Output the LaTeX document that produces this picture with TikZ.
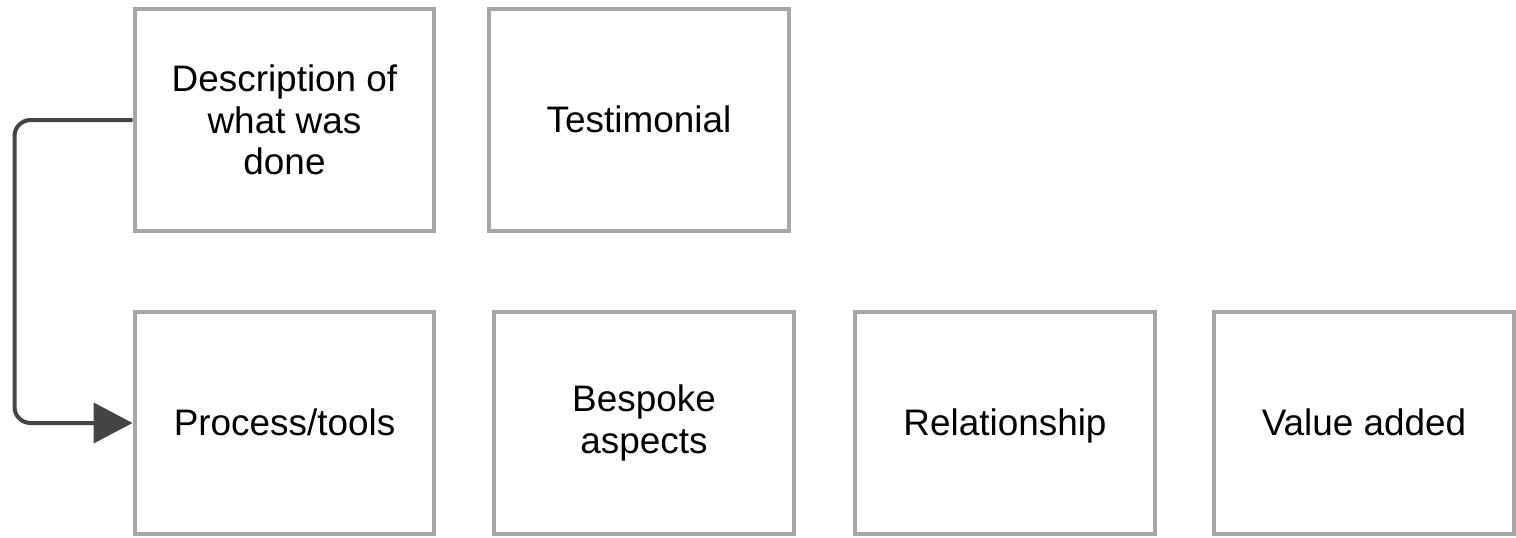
\documentclass[tikz,border=0pt]{standalone}
\usepackage{fontspec}
\setmainfont{Liberation Sans}
\usetikzlibrary{arrows.meta}

\definecolor{boxgray}{HTML}{A6A6A6}
\definecolor{linegray}{HTML}{444444}

\tikzset{
  card/.style={draw=boxgray, line width=0.08cm, rectangle, minimum width=6cm,
    minimum height=4.46cm, align=center, inner sep=0pt,
    font=\fontsize{21}{23.5}\selectfont},
  oneline/.style={text height=18pt, text depth=4.2pt},
  link/.style={draw=linegray, line width=0.08cm, rounded corners=0.32cm,
    -{Triangle[length=0.78cm,width=0.8cm]}}
}

\begin{document}
\begin{tikzpicture}[x=0.02cm,y=-0.02cm]
  \useasboundingbox (0,0) rectangle (1516,538);

  % Top row
  \node[card] (desc) at (284.5,120) {Description of\\what was\\done};
  \node[card, oneline] (testi) at (639,120) {Testimonial};

  % Bottom row
  \node[card, oneline] (proc) at (284.5,423) {Process/tools};
  \node[card] (besp) at (644,423) {Bespoke\\aspects};
  \node[card, oneline] (rel) at (1005,423) {Relationship};
  \node[card, oneline] (val) at (1364,423) {Value added};

  % Link
  \draw[link] (desc.west) -- ++(-118,0) |- (proc.west);
\end{tikzpicture}
\end{document}
